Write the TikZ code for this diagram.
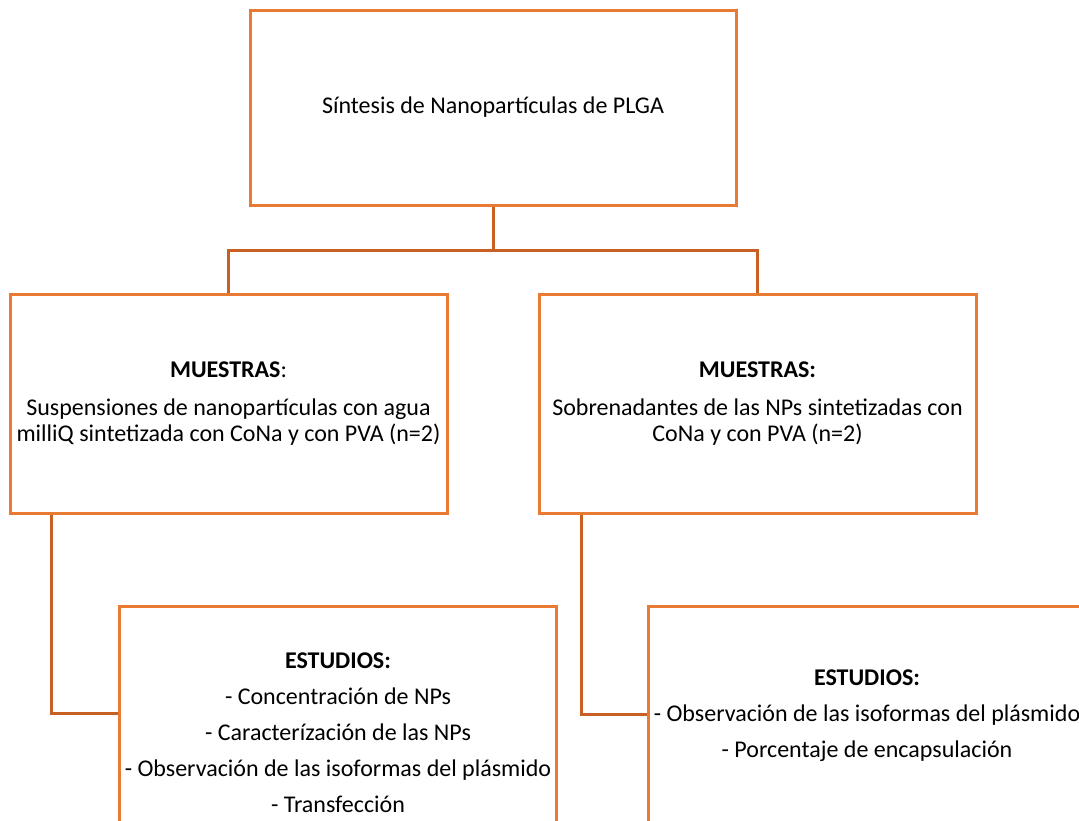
\documentclass[tikz,border=0pt]{standalone}
\usepackage{fontspec}
\setmainfont{Carlito}
\usepackage{xcolor}
\usepackage{tikz}
\usetikzlibrary{positioning,calc}
\definecolor{boxorange}{RGB}{232,122,52}
\definecolor{linkorange}{RGB}{200,96,36}

\begin{document}
\begin{tikzpicture}[x=0.5pt,y=-0.5pt,
  box/.style={draw=boxorange, line width=1.5pt, fill=white, inner sep=0pt,
    align=center, minimum width=218.5pt, font=\fontsize{12}{13}\selectfont},
  listbox/.style={box, font=\fontsize{12}{18}\selectfont},
  conn/.style={draw=linkorange, line width=1.5pt}]
\useasboundingbox (0,0) rectangle (1079,820);
\clip (0,0) rectangle (1079,820);

% Top box
\node[box, minimum width=243pt, minimum height=97.5pt] (sintesis) at (493,107.5)
  {S\'intesis de Nanopart\'iculas de PLGA};

% Sample boxes
\node[box, minimum height=109.5pt] (muestraA) at (228.5,403.5)
  {\textbf{MUESTRAS}:\\[6pt]
   Suspensiones de nanopart\'iculas con agua\\
   milliQ sintetizada con CoNa y con PVA (n=2)};
\node[box, minimum height=109.5pt] (muestraB) at (757.5,403.5)
  {\textbf{MUESTRAS:}\\[6pt]
   Sobrenadantes de las NPs sintetizadas con\\
   CoNa y con PVA (n=2)};

% Study boxes
\node[listbox, minimum height=127pt] (estudioA) at (338,733)
  {\textbf{ESTUDIOS:}\\
   - Concentraci\'on de NPs\\
   - Caracter\'izaci\'on de las NPs\\
   - Observaci\'on de las isoformas del pl\'asmido\\
   - Transfecci\'on};
\node[listbox, minimum height=110pt] (estudioB) at (867,716)
  {\textbf{ESTUDIOS:}\\
   - Observaci\'on de las isoformas del pl\'asmido\\
   - Porcentaje de encapsulaci\'on};

% Connectors
\draw[conn] (sintesis.south) -- ++(0,44) coordinate (split);
\draw[conn] (split) -| (muestraA.north);
\draw[conn] (split) -| (muestraB.north);
\draw[conn] ($(muestraA.south west)+(43,0)$) |- ($(estudioA.north west)+(0,109)$);
\draw[conn] ($(muestraB.south west)+(44,0)$) |- ($(estudioB.north west)+(0,110)$);

\end{tikzpicture}
\end{document}
